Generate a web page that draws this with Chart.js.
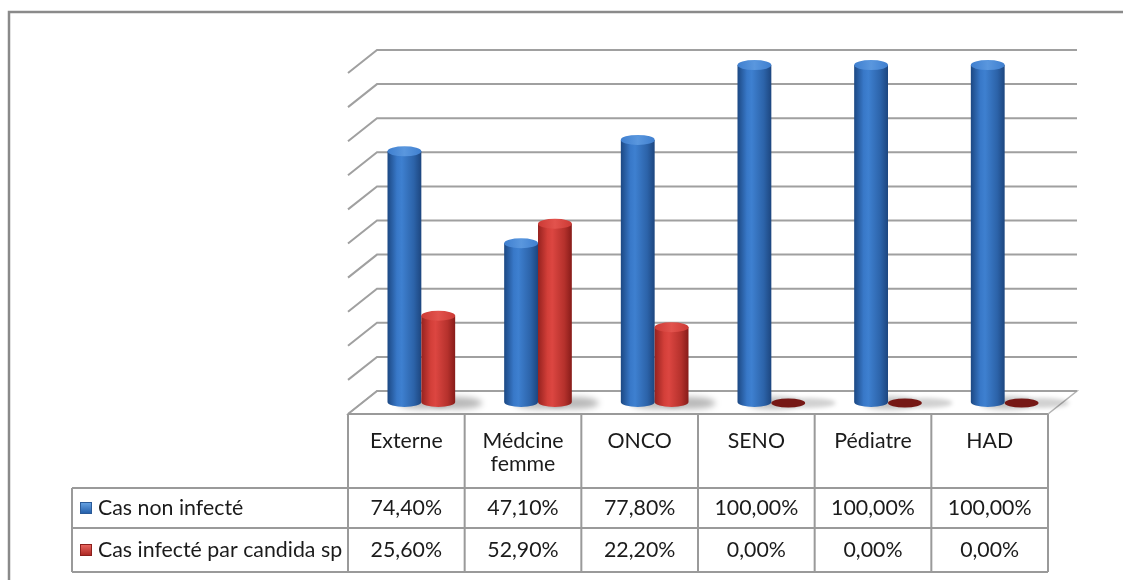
<!DOCTYPE html>
<html>
<head>
<meta charset="utf-8">
<script src="https://cdn.jsdelivr.net/npm/chart.js@4.4.1/dist/chart.umd.min.js"></script>
<style>
  html, body { margin: 0; padding: 0; background: #ffffff; }
  #wrap { width: 1123px; height: 580px; }
</style>
</head>
<body>
<div id="wrap"><canvas id="chart" width="1123" height="580"></canvas></div>
<script>
// Services and infection rates (%)
const categories = ['Externe', 'Médcine femme', 'ONCO', 'SENO', 'Pédiatre', 'HAD'];
const headerLines = [['Externe'], ['Médcine', 'femme'], ['ONCO'], ['SENO'], ['Pédiatre'], ['HAD']];
const seriesNames = ['Cas non infecté', 'Cas infecté par candida sp'];
const nonInfecte = [74.4, 47.1, 77.8, 100, 100, 100];
const infecte = [25.6, 52.9, 22.2, 0, 0, 0];
const gridTicks = [0, 10, 20, 30, 40, 50, 60, 70, 80, 90, 100];

// Pseudo-3D depth offsets
const WALL_DX = 29, WALL_DY = -23;
const BAR_DX = 15, BAR_DY = -12, BAR_SCALE = 0.988;
const ELL_RY = 5;

// Table geometry
const LEGEND_LEFT = 72;
const ROW_HEADER_BOTTOM = 488;
const ROW1_BOTTOM = 528;
const ROW2_BOTTOM = 572;

const FONT = '22px Lato, "Open Sans", sans-serif';
const TEXT_STRETCH = 0.97;
const TEXT_COLOR = '#1b1b1b';

function fmtPct(v) {
  return v.toFixed(2).replace('.', ',') + '%';
}

function drawText(ctx, text, x, y, align) {
  ctx.save();
  ctx.font = FONT;
  ctx.fillStyle = TEXT_COLOR;
  ctx.textBaseline = 'middle';
  ctx.textAlign = align;
  ctx.translate(x, y);
  ctx.scale(TEXT_STRETCH, 1);
  ctx.fillText(text, 0, 0);
  ctx.restore();
}

const palettes = [
  {
    body: [[0, '#1c4883'], [0.28, '#3878c8'], [0.42, '#3e80d0'], [0.78, '#2c63a9'], [1, '#1d467f']],
    top: ['#3f7fcf', '#5a97de'],
    marker: ['#6aa6e6', '#1f5aa6'],
    markerEdge: '#2a5a98'
  },
  {
    body: [[0, '#96221f'], [0.28, '#d33f39'], [0.42, '#dc4641'], [0.78, '#b5312c'], [1, '#871c19']],
    top: ['#cc3a35', '#e2534d'],
    marker: ['#ee6a64', '#a8231f'],
    markerEdge: '#8c1f1c',
    flat: '#761815'
  }
];

function drawShadow(ctx, cx, cy, w) {
  ctx.save();
  ctx.filter = 'blur(3px)';
  ctx.fillStyle = 'rgba(0,0,0,0.28)';
  ctx.beginPath();
  ctx.ellipse(cx + w * 0.55, cy + 1, w * 0.75, ELL_RY + 1, 0, 0, Math.PI * 2);
  ctx.fill();
  ctx.restore();
}

function drawCylinder(ctx, x, top, base, w, pal) {
  const rx = w / 2;
  const g = ctx.createLinearGradient(x - rx, 0, x + rx, 0);
  pal.body.forEach(s => g.addColorStop(s[0], s[1]));
  ctx.beginPath();
  ctx.moveTo(x - rx, top);
  ctx.lineTo(x - rx, base);
  ctx.ellipse(x, base, rx, ELL_RY, 0, Math.PI, 0, true);
  ctx.lineTo(x + rx, top);
  ctx.closePath();
  ctx.fillStyle = g;
  ctx.fill();
  const tg = ctx.createLinearGradient(x - rx, top, x + rx, top);
  tg.addColorStop(0, pal.top[0]);
  tg.addColorStop(0.5, pal.top[1]);
  tg.addColorStop(1, pal.top[0]);
  ctx.beginPath();
  ctx.ellipse(x, top, rx, ELL_RY, 0, 0, Math.PI * 2);
  ctx.fillStyle = tg;
  ctx.fill();
}

const scene3d = {
  id: 'scene3d',
  beforeDatasetsDraw(chart) {
    const { ctx, chartArea: a, scales: { y } } = chart;
    ctx.save();
    // outer frame (top and left edges)
    ctx.strokeStyle = '#8a8a8a';
    ctx.lineWidth = 2.5;
    ctx.beginPath();
    ctx.moveTo(9, 600);
    ctx.lineTo(9, 12);
    ctx.lineTo(1140, 12);
    ctx.stroke();

    // floor
    const fy = y.getPixelForValue(0);
    ctx.beginPath();
    ctx.moveTo(a.left, fy);
    ctx.lineTo(a.left + WALL_DX, fy + WALL_DY);
    ctx.lineTo(a.right + WALL_DX, fy + WALL_DY);
    ctx.lineTo(a.right, fy);
    ctx.closePath();
    ctx.fillStyle = '#ffffff';
    ctx.fill();
    ctx.strokeStyle = '#b4b4b4';
    ctx.lineWidth = 1.5;
    ctx.stroke();

    // back wall gridlines with left-side depth segment
    ctx.strokeStyle = '#a0a0a0';
    ctx.lineWidth = 2;
    gridTicks.forEach(v => {
      const py = y.getPixelForValue(v);
      ctx.beginPath();
      ctx.moveTo(a.left, py);
      ctx.lineTo(a.left + WALL_DX, py + WALL_DY);
      ctx.lineTo(a.right + WALL_DX, py + WALL_DY);
      ctx.stroke();
    });

    // floor shadows beneath the cylinders
    chart.data.datasets.forEach((ds, di) => {
      const meta = chart.getDatasetMeta(di);
      meta.data.forEach((el, i) => {
        if (ds.data[i] > 0) {
          drawShadow(ctx, el.x + BAR_DX, el.base + BAR_DY, el.width);
        }
      });
    });
    ctx.restore();
  },
  afterDatasetsDraw(chart) {
    const { ctx } = chart;
    ctx.save();
    chart.data.datasets.forEach((ds, di) => {
      const meta = chart.getDatasetMeta(di);
      const pal = palettes[di];
      meta.data.forEach((el, i) => {
        const x = el.x + BAR_DX;
        const base = el.base + BAR_DY;
        const top = base - (el.base - el.y) * BAR_SCALE;
        if (ds.data[i] > 0) {
          drawCylinder(ctx, x, top, base, el.width, pal);
        } else {
          // zero value: flat disc on the floor
          ctx.save();
          ctx.filter = 'blur(2px)';
          ctx.fillStyle = 'rgba(0,0,0,0.18)';
          ctx.beginPath();
          ctx.ellipse(x + el.width * 0.6, base + 1, el.width * 0.8, ELL_RY, 0, 0, Math.PI * 2);
          ctx.fill();
          ctx.restore();
          ctx.fillStyle = pal.flat;
          ctx.beginPath();
          ctx.ellipse(x, base + 1, el.width / 2, ELL_RY - 0.5, 0, 0, Math.PI * 2);
          ctx.fill();
        }
      });
    });
    ctx.restore();
  },
  afterDraw(chart) {
    const { ctx, chartArea: a, scales: { x, y } } = chart;
    const n = categories.length;
    const half = a.width / n / 2;
    const top = y.getPixelForValue(0);
    ctx.save();
    ctx.strokeStyle = '#9a9a9a';
    ctx.lineWidth = 2;
    // horizontal rules
    ctx.beginPath();
    ctx.moveTo(a.left, top); ctx.lineTo(a.right, top);
    [ROW_HEADER_BOTTOM, ROW1_BOTTOM, ROW2_BOTTOM].forEach(ry => {
      ctx.moveTo(LEGEND_LEFT, ry); ctx.lineTo(a.right, ry);
    });
    // vertical rules
    ctx.moveTo(LEGEND_LEFT, ROW_HEADER_BOTTOM); ctx.lineTo(LEGEND_LEFT, ROW2_BOTTOM);
    for (let i = 0; i <= n; i++) {
      const ex = (i < n ? x.getPixelForValue(i) - half : x.getPixelForValue(n - 1) + half);
      ctx.moveTo(ex, top); ctx.lineTo(ex, ROW2_BOTTOM);
    }
    ctx.stroke();

    // header labels
    headerLines.forEach((lines, i) => {
      const cx = x.getPixelForValue(i);
      lines.forEach((t, k) => drawText(ctx, t, cx, 441 + k * 23, 'center'));
    });

    // series rows
    const rowCenters = [(ROW_HEADER_BOTTOM + ROW1_BOTTOM) / 2, (ROW1_BOTTOM + ROW2_BOTTOM) / 2];
    chart.data.datasets.forEach((ds, di) => {
      const cy = rowCenters[di];
      const pal = palettes[di];
      // legend key
      const mg = ctx.createLinearGradient(0, cy - 6, 0, cy + 6);
      mg.addColorStop(0, pal.marker[0]);
      mg.addColorStop(1, pal.marker[1]);
      ctx.fillStyle = mg;
      ctx.fillRect(80, cy - 6, 12, 12);
      ctx.strokeStyle = pal.markerEdge;
      ctx.lineWidth = 1;
      ctx.strokeRect(80.5, cy - 5.5, 11, 11);
      drawText(ctx, ds.label, 98, cy, 'left');
      ds.data.forEach((v, i) => drawText(ctx, fmtPct(v), x.getPixelForValue(i), cy, 'center'));
    });
    ctx.restore();
  }
};

new Chart(document.getElementById('chart'), {
  type: 'bar',
  data: {
    labels: categories,
    datasets: [
      { label: seriesNames[0], data: nonInfecte, backgroundColor: 'rgba(0,0,0,0)', borderWidth: 0 },
      { label: seriesNames[1], data: infecte, backgroundColor: 'rgba(0,0,0,0)', borderWidth: 0 }
    ]
  },
  options: {
    responsive: false,
    animation: false,
    devicePixelRatio: 1,
    layout: { padding: { left: 348, right: 75, top: 73, bottom: 166 } },
    categoryPercentage: 0.58,
    barPercentage: 1.0,
    scales: {
      x: { display: false },
      y: { display: false, min: 0, max: 100 }
    },
    plugins: { legend: { display: false }, tooltip: { enabled: false } }
  },
  plugins: [scene3d]
});
</script>
</body>
</html>
